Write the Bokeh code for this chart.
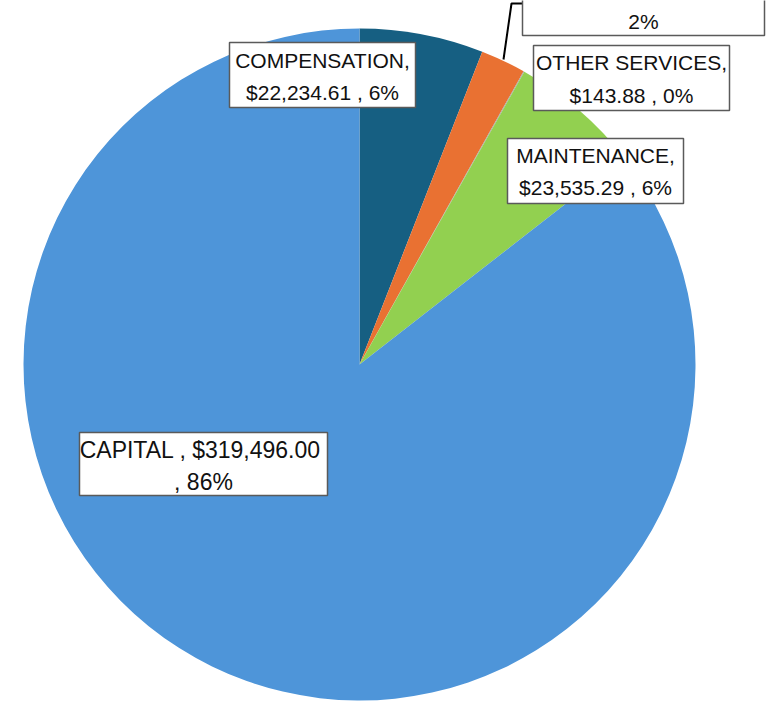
import math
from bokeh.plotting import figure
from bokeh.models import Range1d, ColumnDataSource
from bokeh.core.properties import value
from bokeh.embed import file_html
from bokeh.resources import INLINE

# ---- data ----
categories = ["COMPENSATION", "SUPPLIES", "OTHER SERVICES", "MAINTENANCE", "CAPITAL"]
amounts = [22234.61, 8100.00, 143.88, 23535.29, 319496.00]
colors = ["#165F82", "#E97132", "#A5A5A5", "#92D050", "#4E95D9"]

# ---- layout helpers (reference pixel coords -> data coords) ----
W, H = 775, 708
OFF = 0


def X(rx):
    return rx - OFF


def Y(ry):
    return H - (ry - OFF)


total = sum(amounts)
pcts = [a / total * 100 for a in amounts]
cum = [0.0]
for a in amounts:
    cum.append(cum[-1] + a)
start = [math.pi / 2 - 2 * math.pi * c / total for c in cum[:-1]]
end = [math.pi / 2 - 2 * math.pi * c / total for c in cum[1:]]

p = figure(width=W, height=H, x_range=Range1d(0, W), y_range=Range1d(0, H),
           output_backend="svg", toolbar_location=None,
           x_axis_location=None, y_axis_location=None, min_border=0,
           outline_line_color=None, background_fill_color="white",
           border_fill_color="white")
p.grid.visible = False

src = ColumnDataSource(dict(cat=categories, amt=amounts, color=colors,
                            start=start, end=end))
p.wedge(x=X(359), y=Y(364), radius=336, start_angle="start", end_angle="end",
        direction="clock", fill_color="color", line_color=None, source=src)

# leader line for the small orange slice
p.line([X(503), X(511), X(522)], [Y(59), Y(3), Y(3)], line_color="black", line_width=2)


def money(a):
    return f"${a:,.2f}"


labels = [
    # (lines, box (l, r, t, b), center x, line ys, font size)
    ([f"{categories[0]},", f"{money(amounts[0])} , {pcts[0]:.0f}%"],
     (229, 415, 42, 107), 322, (60, 92), "21px"),
    ([f"{pcts[1]:.0f}%"],
     (522, 764, -40, 35), 643, (21,), "21px"),
    ([f"{categories[2]},", f"{money(amounts[2])} , {pcts[2]:.0f}%"],
     (533, 729, 45, 110), 631, (62, 95), "21px"),
    ([f"{categories[3]},", f"{money(amounts[3])} , {pcts[3]:.0f}%"],
     (507, 683, 138, 203), 595, (155, 187), "21px"),
    ([f"{categories[4]} ,  {money(amounts[4])}", f", {pcts[4]:.0f}%"],
     (79, 327, 432, 495), 203, (449, 481), "23px"),
]

for lines, (l, r, t, b), cx, ys, fs in labels:
    p.quad(left=X(l), right=X(r), top=Y(t), bottom=Y(b), fill_color="white",
           line_color="#5a5a5a", line_width=1.5)
    p.text(x=[X(cx)] * len(lines), y=[Y(yy) for yy in ys], text=lines,
           text_align="center", text_baseline="middle",
           text_font=value("Liberation Sans"), text_font_size=fs,
           text_color="#111111")

open("out.html", "w").write(file_html(p, INLINE))
